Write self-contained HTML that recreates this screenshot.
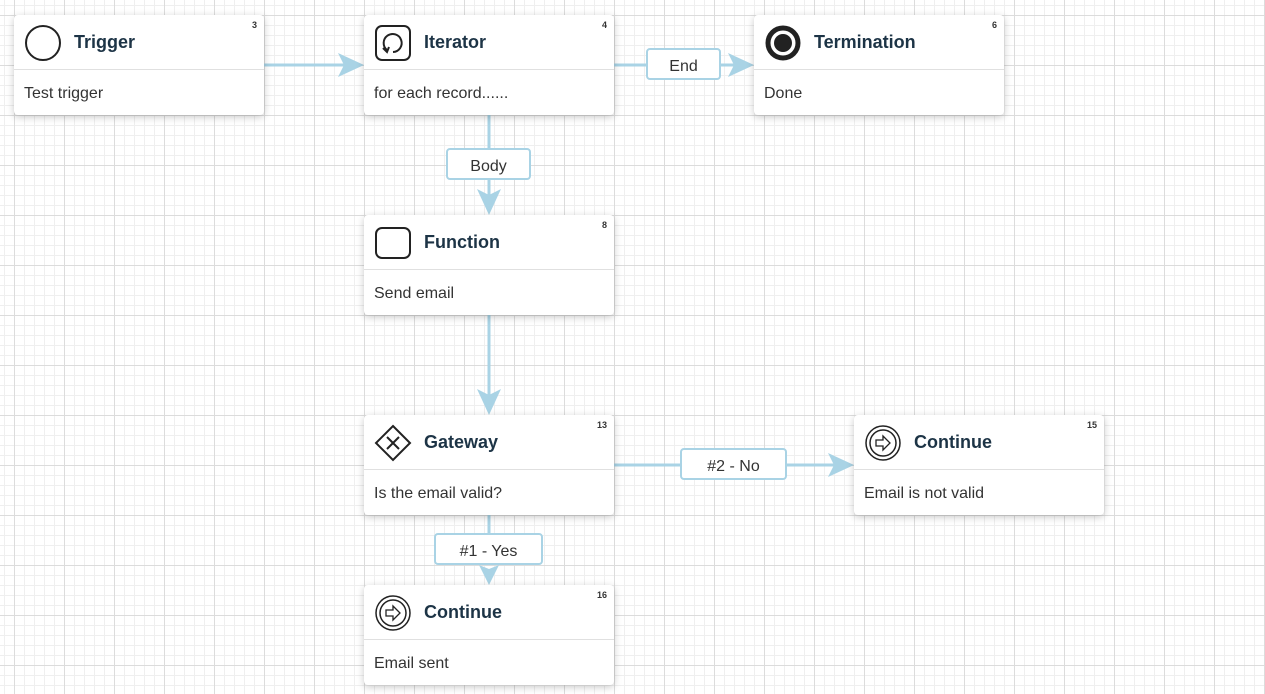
<!DOCTYPE html>
<html><head><meta charset="utf-8"><style>
html,body{margin:0;padding:0}
body{width:1265px;height:694px;overflow:hidden;position:relative;font-family:"Liberation Sans",sans-serif;
background-color:#fff;
background-image:linear-gradient(to right,#dcdcdc 1px,transparent 1px),linear-gradient(to bottom,#dcdcdc 1px,transparent 1px),linear-gradient(to right,#efefef 1px,transparent 1px),linear-gradient(to bottom,#efefef 1px,transparent 1px);
background-size:50px 50px,50px 50px,10px 10px,10px 10px;
background-position:14px 15px,14px 15px,4px 5px,4px 5px;}
svg{position:absolute;left:0;top:0}
.card{position:absolute;width:250px;height:100px;background:#fff;border-radius:4px;box-shadow:0 2px 8px rgba(0,0,0,.22)}
.hd{height:54px;border-bottom:1px solid #e0e0e0;position:relative}
.t{position:absolute;left:60px;top:17px;font-weight:bold;font-size:18px;color:#1d3446}
.n{position:absolute;right:7px;top:5px;font-size:9px;font-weight:bold;color:#333}
.b{padding:15px 10px 11px;font-size:16px;color:#333}
.ic{position:absolute;left:10px;top:9px}
.lb{position:absolute;height:28px;border:2px solid #a9d3e5;border-radius:4px;background:#fff;font-size:16px;color:#333;text-align:center;line-height:34px}
</style></head><body>
<svg width="1265" height="694">
<g stroke="#a9d3e5" stroke-width="3" fill="none">
<line x1="264" y1="65" x2="345" y2="65"/>
<line x1="614" y1="65" x2="735" y2="65"/>
<line x1="489" y1="115" x2="489" y2="195"/>
<line x1="489" y1="315" x2="489" y2="395"/>
<line x1="614" y1="465" x2="835" y2="465"/>
<line x1="489" y1="515" x2="489" y2="565"/>
</g>
<g fill="#a9d3e5">
<path d="M364 65 L338 53 L344 65 L338 77Z"/>
<path d="M754 65 L728 53 L734 65 L728 77Z"/>
<path d="M854 465 L828 453 L834 465 L828 477Z"/>
<path d="M489 215 L477 189 L489 195 L501 189Z"/>
<path d="M489 415 L477 389 L489 395 L501 389Z"/>
<path d="M489 585 L479 565 L489 569 L499 565Z"/>
</g>
</svg>
<div class="lb" style="left:646px;top:48px;width:71px">End</div>
<div class="lb" style="left:446px;top:148px;width:81px">Body</div>
<div class="lb" style="left:680px;top:448px;width:103px">#2 - No</div>
<div class="lb" style="left:434px;top:533px;width:105px">#1 - Yes</div>

<div class="card" style="left:14px;top:15px"><div class="hd">
<svg class="ic" width="38" height="38"><circle cx="19" cy="19" r="17" fill="none" stroke="#222" stroke-width="2"/></svg>
<div class="t">Trigger</div><div class="n">3</div></div><div class="b">Test trigger</div></div>

<div class="card" style="left:364px;top:15px"><div class="hd">
<svg class="ic" width="38" height="38"><rect x="2" y="2" width="34" height="34" rx="6" fill="none" stroke="#222" stroke-width="2"/><path d="M13 26 A9 9 0 1 1 19 28" fill="none" stroke="#222" stroke-width="2"/><path d="M9 24 L13 28 L15 23" fill="none" stroke="#222" stroke-width="2"/></svg>
<div class="t">Iterator</div><div class="n">4</div></div><div class="b">for each record......</div></div>

<div class="card" style="left:754px;top:15px"><div class="hd">
<svg class="ic" width="38" height="38"><circle cx="19" cy="19" r="15" fill="none" stroke="#222" stroke-width="5"/><circle cx="19" cy="19" r="9" fill="#222"/></svg>
<div class="t">Termination</div><div class="n">6</div></div><div class="b">Done</div></div>

<div class="card" style="left:364px;top:215px"><div class="hd">
<svg class="ic" width="38" height="38"><rect x="2" y="4" width="34" height="30" rx="6" fill="none" stroke="#222" stroke-width="2"/></svg>
<div class="t">Function</div><div class="n">8</div></div><div class="b">Send email</div></div>

<div class="card" style="left:364px;top:415px"><div class="hd">
<svg class="ic" width="38" height="38"><path d="M19 2 L36 19 L19 36 L2 19Z" fill="none" stroke="#222" stroke-width="2"/><path d="M13 13 L25 25 M25 13 L13 25" stroke="#222" stroke-width="2"/></svg>
<div class="t">Gateway</div><div class="n">13</div></div><div class="b">Is the email valid?</div></div>

<div class="card" style="left:854px;top:415px"><div class="hd">
<svg class="ic" width="38" height="38"><circle cx="19" cy="19" r="17" fill="none" stroke="#222" stroke-width="1.5"/><circle cx="19" cy="19" r="13" fill="none" stroke="#222" stroke-width="1.5"/><path d="M12 16 H19 V12 L26 19 L19 26 V22 H12Z" fill="none" stroke="#222" stroke-width="1.3"/></svg>
<div class="t">Continue</div><div class="n">15</div></div><div class="b">Email is not valid</div></div>

<div class="card" style="left:364px;top:585px"><div class="hd">
<svg class="ic" width="38" height="38"><circle cx="19" cy="19" r="17" fill="none" stroke="#222" stroke-width="1.5"/><circle cx="19" cy="19" r="13" fill="none" stroke="#222" stroke-width="1.5"/><path d="M12 16 H19 V12 L26 19 L19 26 V22 H12Z" fill="none" stroke="#222" stroke-width="1.3"/></svg>
<div class="t">Continue</div><div class="n">16</div></div><div class="b">Email sent</div></div>
</body></html>
